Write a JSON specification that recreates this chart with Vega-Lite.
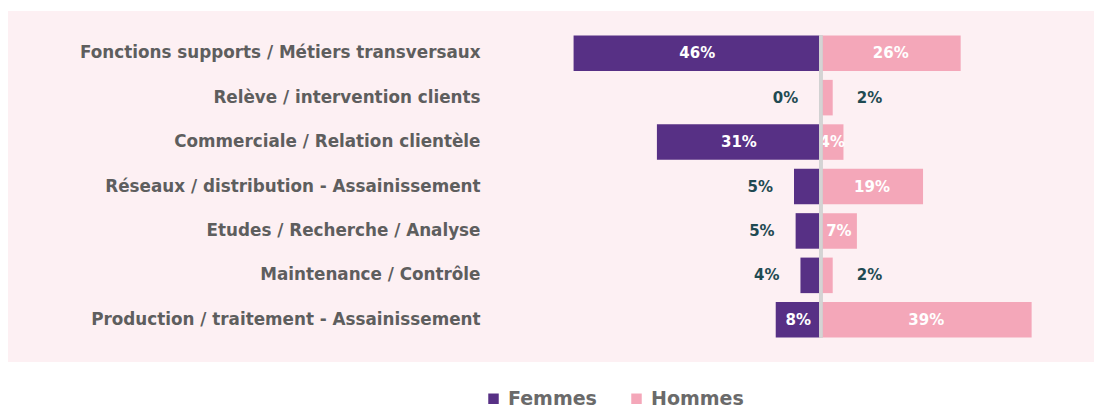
{
  "$schema": "https://vega.github.io/schema/vega-lite/v6.json",
  "width": 1086,
  "height": 351,
  "autosize": {"type": "none"},
  "padding": {"left": 8, "top": 11, "right": 10, "bottom": 46},
  "background": "#ffffff",
  "config": {
    "view": {"fill": "#fdf0f3", "stroke": null},
    "font": "DejaVu Sans"
  },
  "data": {
    "values": [
      {"category": "Fonctions supports / Métiers transversaux", "group": "Femmes", "value": 46},
      {"category": "Fonctions supports / Métiers transversaux", "group": "Hommes", "value": 26},
      {"category": "Relève / intervention clients", "group": "Femmes", "value": 0.3},
      {"category": "Relève / intervention clients", "group": "Hommes", "value": 2.2},
      {"category": "Commerciale / Relation clientèle", "group": "Femmes", "value": 30.5},
      {"category": "Commerciale / Relation clientèle", "group": "Hommes", "value": 4.2},
      {"category": "Réseaux / distribution - Assainissement", "group": "Femmes", "value": 5},
      {"category": "Réseaux / distribution - Assainissement", "group": "Hommes", "value": 19},
      {"category": "Etudes / Recherche / Analyse", "group": "Femmes", "value": 4.7},
      {"category": "Etudes / Recherche / Analyse", "group": "Hommes", "value": 6.7},
      {"category": "Maintenance / Contrôle", "group": "Femmes", "value": 3.8},
      {"category": "Maintenance / Contrôle", "group": "Hommes", "value": 2.2},
      {"category": "Production / traitement - Assainissement", "group": "Femmes", "value": 8.4},
      {"category": "Production / traitement - Assainissement", "group": "Hommes", "value": 39.2}
    ]
  },
  "transform": [
    {"calculate": "datum.group == 'Femmes' ? -datum.value : datum.value", "as": "signed"},
    {"calculate": "datum.signed / 2", "as": "mid"},
    {"calculate": "format(datum.value, '.0f') + '%'", "as": "label"}
  ],
  "encoding": {
    "y": {
      "field": "category",
      "type": "nominal",
      "sort": null,
      "scale": {"paddingInner": 0.2, "paddingOuter": 0.55},
      "axis": {
        "title": null,
        "ticks": false,
        "domain": false,
        "offset": -472,
        "labelPadding": 0,
        "labelFontSize": 16.8,
        "labelFontWeight": "bold",
        "labelColor": "#5e5e5e",
        "labelLimit": 600
      }
    }
  },
  "layer": [
    {
      "mark": {"type": "bar"},
      "encoding": {
        "x": {
          "field": "signed",
          "type": "quantitative",
          "scale": {"domain": [-151.2, 50.8], "nice": false, "zero": false},
          "axis": null
        },
        "color": {
          "field": "group",
          "type": "nominal",
          "scale": {"domain": ["Femmes", "Hommes"], "range": ["#573085", "#f4a7b9"]},
          "legend": {
            "title": null,
            "orient": "none",
            "legendX": 476,
            "legendY": 378,
            "direction": "horizontal",
            "symbolType": "square",
            "symbolSize": 110,
            "symbolStrokeWidth": 0,
            "labelFontSize": 19,
            "labelFontWeight": "bold",
            "labelColor": "#6a6a6a",
            "labelOffset": 5,
            "columnPadding": 30
          }
        }
      }
    },
    {
      "transform": [{"filter": "(datum.group == 'Femmes' && datum.value >= 8) || (datum.group == 'Hommes' && datum.value >= 4)"}],
      "mark": {"type": "text", "color": "#ffffff", "fontSize": 15, "fontWeight": "bold", "align": "center", "baseline": "middle"},
      "encoding": {
        "x": {"field": "mid", "type": "quantitative"},
        "text": {"field": "label", "type": "nominal"}
      }
    },
    {
      "transform": [{"filter": "datum.group == 'Femmes' && datum.value < 8"}],
      "mark": {"type": "text", "color": "#1f4a52", "fontSize": 15, "fontWeight": "bold", "align": "right", "baseline": "middle", "dx": -21},
      "encoding": {
        "x": {"field": "signed", "type": "quantitative"},
        "text": {"field": "label", "type": "nominal"}
      }
    },
    {
      "transform": [{"filter": "datum.group == 'Hommes' && datum.value < 4"}],
      "mark": {"type": "text", "color": "#1f4a52", "fontSize": 15, "fontWeight": "bold", "align": "left", "baseline": "middle", "dx": 24},
      "encoding": {
        "x": {"field": "signed", "type": "quantitative"},
        "text": {"field": "label", "type": "nominal"}
      }
    },
    {
      "mark": {"type": "rule", "color": "#d4d4d4", "strokeWidth": 2.5},
      "encoding": {
        "x": {"datum": 0, "type": "quantitative"},
        "y": {"datum": "Fonctions supports / Métiers transversaux", "bandPosition": 0},
        "y2": {"datum": "Production / traitement - Assainissement", "bandPosition": 1}
      }
    }
  ]
}
